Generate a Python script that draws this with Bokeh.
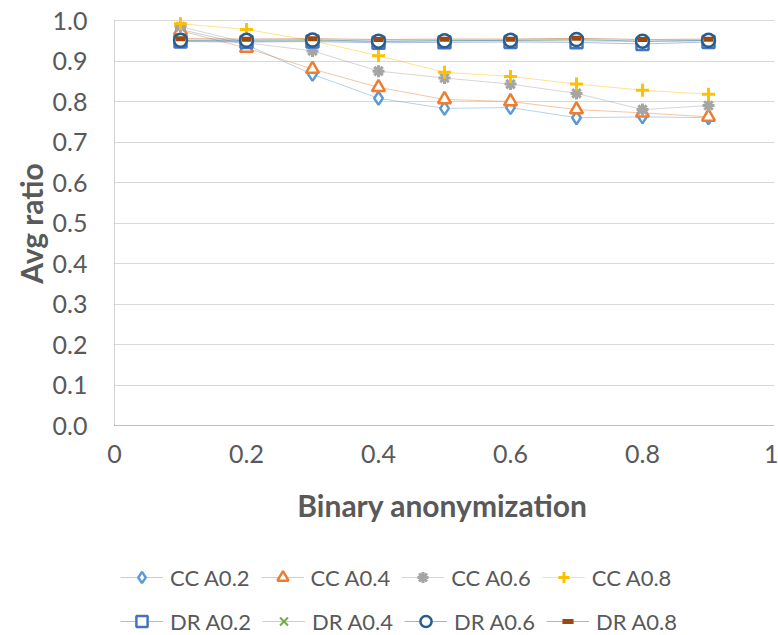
from math import pi
from bokeh.plotting import figure
from bokeh.models import Range1d, FixedTicker, PrintfTickFormatter, NumeralTickFormatter, Legend, LegendItem, Label
from bokeh.embed import file_html
from bokeh.resources import INLINE

x = [0.1, 0.2, 0.3, 0.4, 0.5, 0.6, 0.7, 0.8, 0.9]

cc_a02 = [0.978, 0.940, 0.867, 0.808, 0.783, 0.785, 0.760, 0.762, 0.760]
cc_a04 = [0.975, 0.932, 0.880, 0.835, 0.805, 0.800, 0.780, 0.772, 0.762]
cc_a06 = [0.985, 0.945, 0.925, 0.875, 0.858, 0.843, 0.820, 0.780, 0.790]
cc_a08 = [0.992, 0.978, 0.950, 0.913, 0.872, 0.862, 0.843, 0.828, 0.818]
dr_a02 = [0.948, 0.947, 0.948, 0.945, 0.946, 0.947, 0.946, 0.942, 0.947]
dr_a04 = [0.950, 0.948, 0.950, 0.948, 0.950, 0.950, 0.950, 0.948, 0.950]
dr_a06 = [0.951, 0.951, 0.952, 0.949, 0.950, 0.951, 0.953, 0.949, 0.951]
dr_a08 = [0.955, 0.954, 0.955, 0.953, 0.954, 0.954, 0.956, 0.953, 0.954]

labels = ["CC A0.2", "CC A0.4", "CC A0.6", "CC A0.8", "DR A0.2", "DR A0.4", "DR A0.6", "DR A0.8"]
y_ticks = [0.0, 0.1, 0.2, 0.3, 0.4, 0.5, 0.6, 0.7, 0.8, 0.9, 1.0]
x_ticks = [0, 0.2, 0.4, 0.6, 0.8, 1.0]

series = [cc_a02, cc_a04, cc_a06, cc_a08, dr_a02, dr_a04, dr_a06, dr_a08]
colors = ["#5B9BD5", "#ED7D31", "#A5A5A5", "#FFC000", "#4472C4", "#70AD47", "#255E91", "#9E480E"]
markers = ["diamond", "triangle", "asterisk", "cross", "square", "x", "circle", "dash"]
sizes = [13, 13, 12, 13, 12, 10, 13, 10]
mlw = [2.5, 2.5, 3, 3, 2.5, 2, 2.5, 5]

FONT = "Lato"
TXT = "#595959"
W, H = 778, 635
# frame spans whole canvas; data 0..1 maps to plot area x 114..774, y 425..20
px_x, px_y = 660.0, 405.0
x_lo, x_hi = -114 / px_x, 1 + 4 / px_x
y_lo, y_hi = -(H - 425) / px_y, 1 + 20 / px_y

p = figure(width=W, height=H, output_backend="svg", toolbar_location=None,
           x_range=Range1d(x_lo, x_hi), y_range=Range1d(y_lo, y_hi), min_border=0)
p.outline_line_color = None
p.background_fill_color = "white"
p.border_fill_color = "white"

p.xgrid.grid_line_color = None
p.ygrid.grid_line_color = "#D9D9D9"
p.ygrid.grid_line_width = 1
p.ygrid.ticker = FixedTicker(ticks=y_ticks)
p.ygrid.cross_bounds = (0, 1)

p.yaxis.ticker = FixedTicker(ticks=y_ticks)
p.yaxis.formatter = PrintfTickFormatter(format="%.1f")
p.xaxis.ticker = FixedTicker(ticks=x_ticks)
p.xaxis.formatter = NumeralTickFormatter(format="0.[0]")

for ax in [p.xaxis[0], p.yaxis[0]]:
    ax.fixed_location = 0
    ax.bounds = (0, 1)
    ax.axis_line_color = "#A6A6A6"
    ax.axis_line_dash = "1 1"
    ax.axis_line_width = 1
    ax.major_tick_line_color = None
    ax.minor_tick_line_color = None
    ax.major_tick_out = 0
    ax.major_tick_in = 0
    ax.major_label_text_font = FONT
    ax.major_label_text_font_size = "25px"
    ax.major_label_text_color = TXT
p.yaxis.major_label_standoff = 27
p.xaxis.major_label_standoff = 19

items = []
for lab, ys, c, m, s, lw in zip(labels, series, colors, markers, sizes, mlw):
    ln = p.line(x, ys, line_color=c, line_width=1, line_alpha=0.45)
    if m in ("diamond", "triangle", "square", "circle"):
        sc = p.scatter(x, ys, marker=m, size=s, line_color=c, fill_color="white", line_width=lw)
    else:
        sc = p.scatter(x, ys, marker=m, size=s, line_color=c, fill_color=c, line_width=lw)
    items.append(LegendItem(label=lab, renderers=[ln, sc]))

title_style = dict(x_units="screen", y_units="screen", text_font=FONT, text_font_size="30px",
                   text_font_style="bold", text_color=TXT, text_align="center", text_baseline="middle")
p.add_layout(Label(x=30, y=H - 223, text="Avg ratio", angle=pi / 2, **title_style))
p.add_layout(Label(x=442, y=H - 504, text="Binary anonymization", **title_style))

def mk_legend(its, loc):
    return Legend(items=its, orientation="horizontal", location=loc,
                  label_text_font=FONT, label_text_font_size="22px", label_text_color=TXT,
                  glyph_width=43, glyph_height=28, label_height=28, label_standoff=7,
                  spacing=11, padding=0, margin=0, border_line_color=None,
                  background_fill_alpha=0)

p.add_layout(mk_legend(items[:4], (120, H - 577 - 14)))
p.add_layout(mk_legend(items[4:], (120, 0)))

open("out.html", "w").write(file_html(p, INLINE))
